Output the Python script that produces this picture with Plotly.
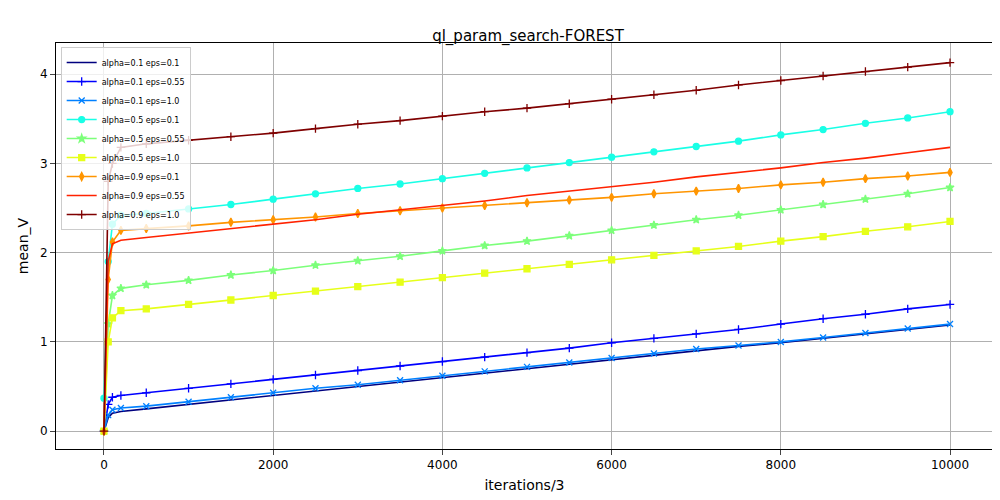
import plotly.graph_objects as go

iters = [0, 50, 100, 200] + list(range(500, 10001, 500))

names = ["alpha=0.1 eps=0.1", "alpha=0.1 eps=0.55", "alpha=0.1 eps=1.0",
         "alpha=0.5 eps=0.1", "alpha=0.5 eps=0.55", "alpha=0.5 eps=1.0",
         "alpha=0.9 eps=0.1", "alpha=0.9 eps=0.55", "alpha=0.9 eps=1.0"]

a01_e01 = [0, 0.15, 0.2, 0.22, 0.25, 0.3, 0.35, 0.4, 0.45, 0.5, 0.55, 0.6, 0.65, 0.7, 0.75, 0.8, 0.85, 0.9, 0.95, 0.99, 1.04, 1.09, 1.14, 1.19]
a01_e055 = [0, 0.3, 0.38, 0.4, 0.43, 0.48, 0.53, 0.58, 0.63, 0.68, 0.73, 0.78, 0.83, 0.88, 0.93, 0.99, 1.04, 1.09, 1.14, 1.2, 1.26, 1.31, 1.37, 1.42]
a01_e10 = [0, 0.18, 0.24, 0.26, 0.28, 0.33, 0.38, 0.43, 0.48, 0.52, 0.57, 0.62, 0.67, 0.72, 0.77, 0.82, 0.87, 0.92, 0.96, 1.0, 1.05, 1.1, 1.15, 1.2]
a05_e01 = [0.37, 1.9, 2.32, 2.42, 2.44, 2.49, 2.54, 2.6, 2.66, 2.72, 2.77, 2.83, 2.89, 2.95, 3.01, 3.07, 3.13, 3.19, 3.25, 3.32, 3.38, 3.45, 3.51, 3.58]
a05_e055 = [0, 1.2, 1.52, 1.6, 1.64, 1.69, 1.75, 1.8, 1.86, 1.91, 1.96, 2.02, 2.08, 2.13, 2.19, 2.25, 2.31, 2.37, 2.42, 2.48, 2.54, 2.6, 2.66, 2.73]
a05_e10 = [0, 1.0, 1.27, 1.35, 1.37, 1.42, 1.47, 1.52, 1.57, 1.62, 1.67, 1.72, 1.77, 1.82, 1.87, 1.92, 1.97, 2.02, 2.07, 2.13, 2.18, 2.24, 2.29, 2.35]
a09_e01 = [0, 1.7, 2.12, 2.25, 2.27, 2.3, 2.34, 2.37, 2.4, 2.44, 2.47, 2.5, 2.53, 2.56, 2.59, 2.62, 2.66, 2.69, 2.72, 2.76, 2.79, 2.83, 2.86, 2.9]
a09_e055 = [0, 1.9, 2.1, 2.14, 2.17, 2.22, 2.27, 2.32, 2.37, 2.43, 2.48, 2.53, 2.58, 2.64, 2.69, 2.74, 2.79, 2.85, 2.9, 2.95, 3.01, 3.06, 3.12, 3.18]
a09_e10 = [0, 2.8, 3.0, 3.18, 3.22, 3.26, 3.3, 3.34, 3.39, 3.44, 3.48, 3.53, 3.58, 3.62, 3.67, 3.72, 3.77, 3.82, 3.88, 3.93, 3.98, 4.03, 4.08, 4.13]

x_ticks = [0, 2000, 4000, 6000, 8000, 10000]
x_labels = ["0", "2000", "4000", "6000", "8000", "10000"]

series = [a01_e01, a01_e055, a01_e10, a05_e01, a05_e055, a05_e10, a09_e01, a09_e055, a09_e10]
colors = ["#00007f", "#0000ff", "#0080ff", "#19ffe6", "#7cff7a", "#e6ff19", "#ff9500", "#ff2200", "#7f0000"]
symbols = [None, "cross-thin", "x-thin", "circle", "star", "square", "diamond-tall", None, "cross-thin"]

fig = go.Figure()
for name, ys, c, s in zip(names, series, colors, symbols):
    if s is None:
        fig.add_trace(go.Scatter(x=iters, y=ys, name=name, mode="lines",
                                 line=dict(color=c, width=1.6)))
    else:
        fig.add_trace(go.Scatter(x=iters, y=ys, name=name, mode="lines+markers",
                                 line=dict(color=c, width=1.6),
                                 marker=dict(symbol=s, size=6, color=c,
                                             line=dict(color=c, width=1.3))))

fig.update_layout(
    width=1000, height=500,
    title=dict(text="ql_param_search-FOREST", x=0.52, xanchor="center", y=0.955, font=dict(size=15, color="black")),
    font=dict(family="DejaVu Sans", size=12, color="black"),
    plot_bgcolor="white", paper_bgcolor="white",
    margin=dict(l=48, r=15, t=35, b=59, autoexpand=False),
    legend=dict(x=0.005, y=0.99, xanchor="left", yanchor="top", font=dict(size=8),
                bgcolor="rgba(255,255,255,0.8)", bordercolor="#cccccc", borderwidth=1,
                tracegroupgap=0, itemwidth=30),
    showlegend=True,
)
fig.update_xaxes(range=[-567, 10508], tickvals=x_ticks, ticktext=x_labels, automargin=False,
                 title_text="iterations/3", title_standoff=8, showgrid=True, gridcolor="#b0b0b0",
                 showline=True, linecolor="black", mirror=True, ticks="outside", zeroline=False)
fig.update_yaxes(range=[-0.2, 4.35], tickvals=[0, 1, 2, 3, 4], automargin=False,
                 title_text="mean_V", title_standoff=8, showgrid=True, gridcolor="#b0b0b0",
                 showline=True, linecolor="black", mirror=True, ticks="outside", zeroline=False)

fig.write_html("out.html")
